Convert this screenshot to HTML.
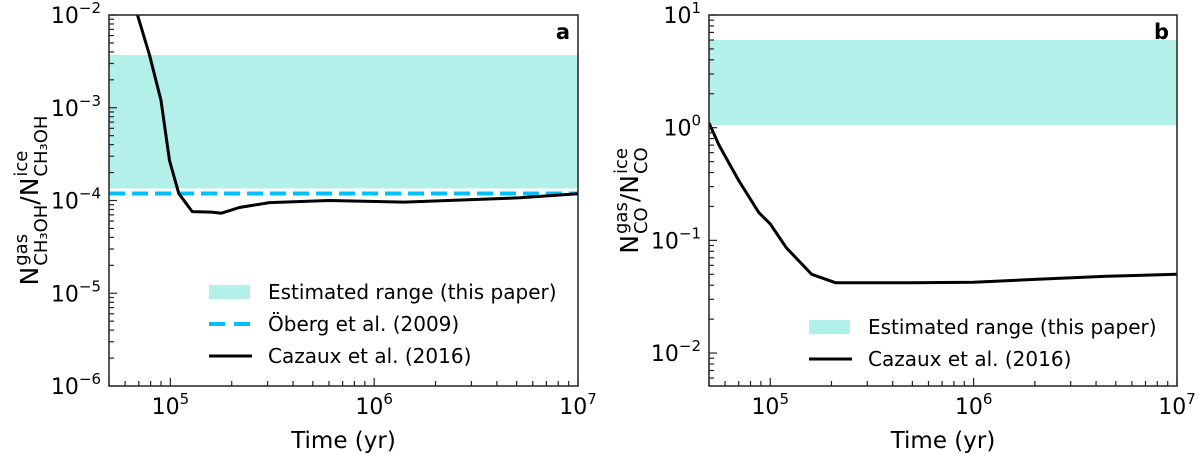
<!DOCTYPE html>
<html><head><meta charset="utf-8"><style>
html,body{margin:0;padding:0;background:#fff;width:1200px;height:455px;overflow:hidden}
svg{font-family:"DejaVu Sans","Liberation Sans",sans-serif}
</style></head><body>
<svg id="chart" width="1200" height="455" viewBox="0 0 1200 455" xmlns="http://www.w3.org/2000/svg"></svg>
<script>
// Panel a data
const aTimes = [6.9e4, 7.9e4, 9.0e4, 9.9e4, 1.1e5, 1.28e5, 1.59e5, 1.78e5, 2.18e5, 3.06e5, 6e5, 1.4e6, 5.2e6, 1e7];
const aRatio = [1e-2, 3.7e-3, 1.2e-3, 2.7e-4, 1.19e-4, 7.6e-5, 7.5e-5, 7.3e-5, 8.4e-5, 9.5e-5, 1e-4, 9.6e-5, 1.07e-4, 1.18e-4];
const aBand = [1.35e-4, 3.7e-3];
const aOberg = [1.19e-4];
const aYTicks = [-6, -5, -4, -3, -2];
// Panel b data
const bTimes = [5e4, 5.6e4, 7e4, 8.8e4, 1e5, 1.2e5, 1.39e5, 1.6e5, 2.1e5, 5e5, 1e6, 2e6, 4.5e6, 1e7];
const bRatio = [1.1, 0.7, 0.34, 0.176, 0.14, 0.086, 0.065, 0.05, 0.042, 0.042, 0.0425, 0.045, 0.048, 0.05];
const bBand = [1.05, 6];
const bYTicks = [-2, -1, 0, 1];
const xTicks = [5, 6, 7];

const NS = "http://www.w3.org/2000/svg";
const svg = document.getElementById('chart');
function el(tag, attrs, parent, text) {
  const e = document.createElementNS(NS, tag);
  for (const k in attrs) e.setAttribute(k, attrs[k]);
  if (text !== undefined) e.textContent = text;
  (parent || svg).appendChild(e);
  return e;
}
function makePanel(p) {
  const g = el('g', {});
  
  
  const L = p.left, R = p.right, T = 15, B = 386;
  const xs = v => L + (Math.log10(v) - Math.log10(5e4)) / (7 - Math.log10(5e4)) * (R - L);
  const ys = v => B - (Math.log10(v) - p.ymin) / (p.ymax - p.ymin) * (B - T);
  const band = el('rect', {x: L, y: ys(p.band[1]), width: R - L, height: ys(p.band[0]) - ys(p.band[1]), fill: '#b3f0ea'}, g);
  
  
  if (p.oberg) {
    const ob = el('line', {x1: L, x2: R, y1: ys(p.oberg[0]), y2: ys(p.oberg[0]), stroke: '#00bfff', 'stroke-width': 4, 'stroke-dasharray': '16 7'}, g);
    
    
  }
  const cid = 'clip' + p.name;
  const cp = el('clipPath', {id: cid}, g);
  el('rect', {x: L, y: T, width: R - L, height: B - T}, cp);
  const d = p.times.map((t, i) => (i ? 'L' : 'M') + xs(t).toFixed(1) + ' ' + ys(p.ratio[i]).toFixed(1)).join(' ');
  const cur = el('path', {d, fill: 'none', stroke: '#000', 'stroke-width': 3, 'clip-path': 'url(#' + cid + ')', 'stroke-linejoin': 'round'}, g);
  
  
  el('rect', {x: L, y: T, width: R - L, height: B - T, fill: 'none', stroke: '#222', 'stroke-width': 1.5}, g);
  for (let e = 4; e <= 7; e++) for (let m = 1; m < 10; m++) {
    const v = m * Math.pow(10, e);
    if (v < 5e4 || v > 1e7) continue;
    const x = xs(v), len = m === 1 ? 8 : 5;
    el('line', {x1: x, x2: x, y1: B, y2: B - len, stroke: '#222', 'stroke-width': 1.2}, g);
  }
  xTicks.forEach(e => {
    const t = el('text', {x: xs(Math.pow(10, e)), y: 414, 'text-anchor': 'middle', 'font-size': 22}, g);
    
    
    t.appendChild(document.createTextNode('10'));
    el('tspan', {dy: -10, 'font-size': 15}, t, String(e));
  });
  for (let e = Math.floor(p.ymin); e <= p.ymax; e++) for (let m = 1; m < 10; m++) {
    const v = m * Math.pow(10, e), lv = Math.log10(v);
    if (lv < p.ymin - 1e-6 || lv > p.ymax + 1e-6) continue;
    const y = ys(v), len = m === 1 ? 8 : 5;
    el('line', {x1: L, x2: L + len, y1: y, y2: y, stroke: '#222', 'stroke-width': 1.2}, g);
  }
  p.yticks.forEach(e => {
    const t = el('text', {x: L - 8, y: ys(Math.pow(10, e)) + 8, 'text-anchor': 'end', 'font-size': 22}, g);
    
    
    t.appendChild(document.createTextNode('10'));
    el('tspan', {dy: -10, 'font-size': 15}, t, String(e < 0 ? '\u2212' + (-e) : e));
  });
  const xt = el('text', {x: (L + R) / 2, y: 448, 'text-anchor': 'middle', 'font-size': 23}, g, 'Time (yr)');
  
  
  const pl = el('text', {x: R - 8, y: 39, 'text-anchor': 'end', 'font-size': 21, 'font-weight': 'bold'}, g, p.letter);
  
  
  const yg = el('g', {}, g);
  
  
  let cx = 0;
  function piece(txt, size, dy) {
    return el('text', {x: cx, y: dy, 'font-size': size}, yg, txt);
  }
  const n1 = piece('N', 25, 0); cx += n1.getComputedTextLength() + 1;
  const s1 = piece('gas', 18, -11); const s2 = piece(p.subText1, 18, 9);
  cx += Math.max(s1.getComputedTextLength(), s2.getComputedTextLength());
  const n2 = piece('/N', 25, 0); cx += n2.getComputedTextLength() + 1;
  const s3 = piece('ice', 18, -11); const s4 = piece(p.subText1, 18, 9);
  cx += Math.max(s3.getComputedTextLength(), s4.getComputedTextLength());
  yg.setAttribute('transform', 'translate(' + p.ytx + ',' + ((T + B) / 2 + cx / 2) + ') rotate(-90)');
  const lg = el('g', {}, g);
  
  
  p.legend.forEach((it, i) => {
    const y = p.legY + i * 32;
    const lx = L + 100;
    if (it.kind === 'band') el('rect', {x: lx, y: y - 7, width: 41, height: 14, fill: '#b3f0ea'}, lg);
    else if (it.kind === 'dash') el('line', {x1: lx, x2: lx + 41, y1: y, y2: y, stroke: '#00bfff', 'stroke-width': 4, 'stroke-dasharray': '16 9'}, lg);
    else el('line', {x1: lx, x2: lx + 43, y1: y, y2: y, stroke: '#000', 'stroke-width': 3}, lg);
    const tx = el('text', {x: lx + 59, y: y + 7, 'font-size': 20}, lg, it.label);
    
    
  });
}
makePanel({name: 'panel-a', letter: 'a', left: 109, right: 578, ymin: -6, ymax: -2, band: aBand, oberg: aOberg,
  times: aTimes, ratio: aRatio, yticks: aYTicks, ytx: 38, subText1: 'CH\u2083OH', legY: 292,
  legend: [{kind: 'band', label: 'Estimated range (this paper)'}, {kind: 'dash', label: '\u00d6berg et al. (2009)'}, {kind: 'line', label: 'Cazaux et al. (2016)'}]});
makePanel({name: 'panel-b', letter: 'b', left: 709, right: 1177, ymin: Math.log10(5.1e-3), ymax: 1, band: bBand,
  times: bTimes, ratio: bRatio, yticks: bYTicks, ytx: 638, subText1: 'CO', legY: 327,
  legend: [{kind: 'band', label: 'Estimated range (this paper)'}, {kind: 'line', label: 'Cazaux et al. (2016)'}]});
</script>
</body></html>
